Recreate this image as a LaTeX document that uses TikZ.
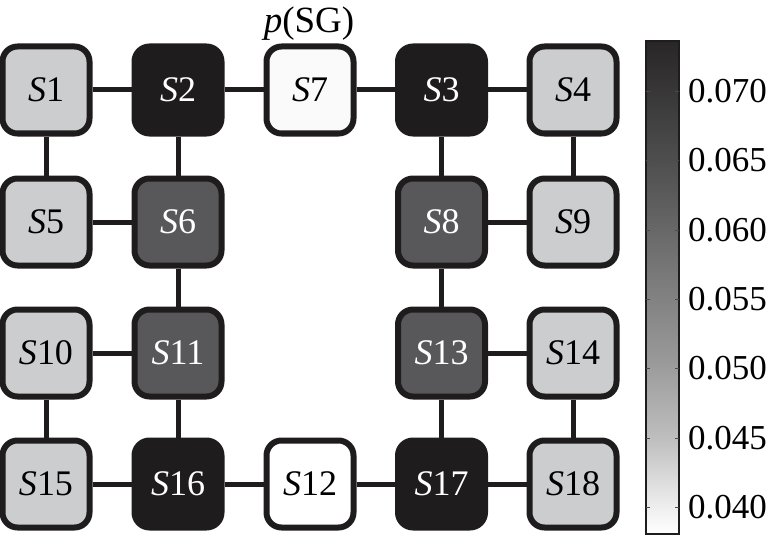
\documentclass[tikz,border=0pt]{standalone}
\usepackage{fontspec}
\setmainfont{Liberation Serif}
\definecolor{ink}{RGB}{30,28,29}
\definecolor{lightg}{RGB}{204,205,207}
\definecolor{darkg}{RGB}{88,88,90}
\definecolor{nearw}{RGB}{250,250,250}
\definecolor{cbtop}{RGB}{40,38,38}
\definecolor{cbA}{RGB}{238,238,238}
\definecolor{cbB}{RGB}{190,190,191}
\definecolor{cbC}{RGB}{153,153,154}
\definecolor{cbD}{RGB}{85,85,86}
\pgfdeclareverticalshading{cbar}{100bp}{color(0bp)=(white); color(25bp)=(white); color(27.75bp)=(cbA);
  color(34.75bp)=(cbB); color(42.65bp)=(cbC); color(60.9bp)=(cbD); color(75bp)=(cbtop); color(100bp)=(cbtop)}
\begin{document}
\begin{tikzpicture}[x=1pt,y=-1pt,
  state/.style={draw=ink, line width=6pt, rounded corners=15pt, minimum size=87pt,
    inner sep=0pt, font=\fontsize{36}{40}\selectfont},
  lt/.style={state, fill=lightg, text=black},
  dk/.style={state, fill=darkg, text=white},
  bk/.style={state, fill=ink, text=white},
  wh/.style={state, fill=white, text=black},
  nw/.style={state, fill=nearw, text=black},
  link/.style={draw=ink, line width=5pt},
  ticklab/.style={anchor=west, inner sep=0pt, font=\fontsize{35}{40}\selectfont},
  tick/.style={draw=ink!80, line width=0.8pt}]
\useasboundingbox (0,0) rectangle (772,535);
% nodes
\node[lt] (s1) at (46,90) {\textit{S}1};
\node[bk] (s2) at (178,90) {\textit{S}2};
\node[nw] (s7) at (310,90) {\textit{S}7};
\node[bk] (s3) at (441.5,90) {\textit{S}3};
\node[lt] (s4) at (573,90) {\textit{S}4};
\node[lt] (s5) at (46,222) {\textit{S}5};
\node[dk] (s6) at (178,222) {\textit{S}6};
\node[dk] (s8) at (441.5,222) {\textit{S}8};
\node[lt] (s9) at (573,222) {\textit{S}9};
\node[lt] (s10) at (46,353) {\textit{S}10};
\node[dk] (s11) at (178,353) {\textit{S}11};
\node[dk] (s13) at (441.5,353) {\textit{S}13};
\node[lt] (s14) at (573,353) {\textit{S}14};
\node[lt] (s15) at (46,484) {\textit{S}15};
\node[bk] (s16) at (178,484) {\textit{S}16};
\node[wh] (s12) at (310,484) {\textit{S}12};
\node[bk] (s17) at (441.5,484) {\textit{S}17};
\node[lt] (s18) at (573,484) {\textit{S}18};
\node[inner sep=0pt, font=\fontsize{37}{40}\selectfont] (title) at (309,24) {\textit{p}(SG)};
% connectors
\foreach \a/\b in {s1/s2, s2/s7, s7/s3, s3/s4, s1/s5, s2/s6, s3/s8, s4/s9,
  s5/s6, s8/s9, s6/s11, s8/s13, s10/s11, s13/s14, s10/s15, s14/s18,
  s11/s16, s13/s17, s15/s16, s16/s12, s12/s17, s17/s18}
  \draw[link] (\a) -- (\b);
% colorbar
\shade[shading=cbar] (646,41) rectangle (679,534);
\draw[draw=ink, line width=1.5pt] (646,41) rectangle (679,534);
\foreach \v/\y in {0.070/91, 0.065/160.5, 0.060/230, 0.055/299, 0.050/368, 0.045/438, 0.040/507} {
  \draw[tick] (646,\y) -- ++(4,0);
  \draw[tick] (679,\y) -- ++(-4,0);
  \node[ticklab] (t\y) at (688,\y) {\v};
}
\end{tikzpicture}
\end{document}
